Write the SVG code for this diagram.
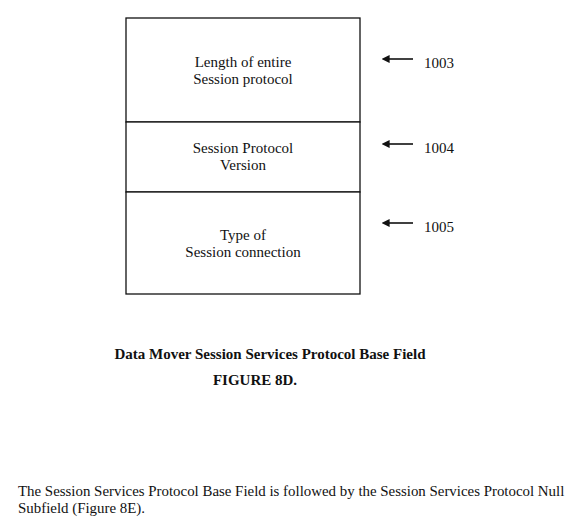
<svg xmlns="http://www.w3.org/2000/svg" width="576" height="525" viewBox="0 0 576 525">
<style>
text{font-family:"Liberation Serif","Times New Roman",serif;font-size:15px;fill:#111}
.c{text-anchor:middle}
.b{font-weight:bold}
.box{fill:#fff;stroke:#111;stroke-width:1.3}
.arr{stroke:#111;stroke-width:1.6;fill:none}
</style>
<defs>
<marker id="ah" viewBox="0 0 10 10" refX="2" refY="5" markerWidth="5" markerHeight="5" orient="auto-start-reverse">
<path d="M0,0 L10,5 L0,10 z" fill="#111"/>
</marker>
</defs>
<rect width="576" height="525" fill="#fff"/>
<g id="field1003">
<rect class="box" x="126" y="18" width="234" height="104"/>
<text class="c" x="243" y="67">Length of entire</text>
<text class="c" x="243" y="84">Session protocol</text>
</g>
<g id="field1004">
<rect class="box" x="126" y="122" width="234" height="70"/>
<text class="c" x="243" y="153">Session Protocol</text>
<text class="c" x="243" y="170">Version</text>
</g>
<g id="field1005">
<rect class="box" x="126" y="192" width="234" height="102"/>
<text class="c" x="243" y="240">Type of</text>
<text class="c" x="243" y="257">Session connection</text>
</g>
<g id="connectors">
<line class="arr" x1="413" y1="59" x2="388" y2="59" marker-end="url(#ah)"/>
<line class="arr" x1="413" y1="144" x2="388" y2="144" marker-end="url(#ah)"/>
<line class="arr" x1="413" y1="223" x2="388" y2="223" marker-end="url(#ah)"/>
</g>
<g id="labels">
<text x="424" y="68">1003</text>
<text x="424" y="153">1004</text>
<text x="424" y="232">1005</text>
</g>
<g id="caption">
<text class="c b" x="270" y="359">Data Mover Session Services Protocol Base Field</text>
<text class="c b" x="255" y="385">FIGURE 8D.</text>
</g>
<g id="paragraph">
<text x="18" y="496" style="font-size:14.9px">The Session Services Protocol Base Field is followed by the Session Services Protocol Null</text>
<text x="18" y="513" style="font-size:14.9px">Subfield (Figure 8E).</text>
</g>
</svg>
